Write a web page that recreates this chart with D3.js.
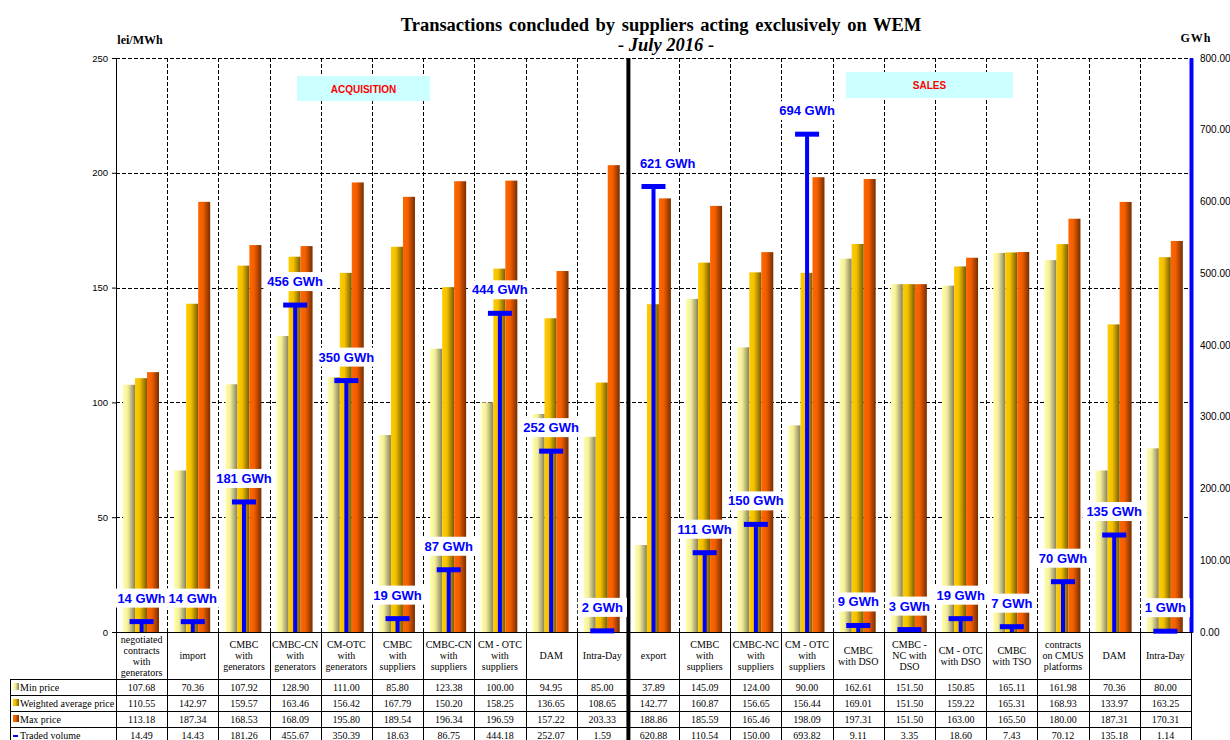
<!DOCTYPE html>
<html>
<head>
<meta charset="utf-8">
<script src="https://cdn.jsdelivr.net/npm/d3@7"></script>
<style>
  html, body { margin: 0; padding: 0; background: #fff; }
  svg { display: block; }
</style>
</head>
<body>
<svg id="chart" width="1230" height="740"></svg>
<script>
// Category labels (header row of the table), one array of lines per column
const categoryLines = [
  ["negotiated", "contracts", "with", "generators"],
  ["import"],
  ["CMBC", "with", "generators"],
  ["CMBC-CN", "with", "generators"],
  ["CM-OTC", "with", "generators"],
  ["CMBC", "with", "suppliers"],
  ["CMBC-CN", "with", "suppliers"],
  ["CM - OTC", "with", "suppliers"],
  ["DAM"],
  ["Intra-Day"],
  ["export"],
  ["CMBC", "with", "suppliers"],
  ["CMBC-NC", "with", "suppliers"],
  ["CM - OTC", "with", "suppliers"],
  ["CMBC", "with DSO"],
  ["CMBC -", "NC with", "DSO"],
  ["CM - OTC", "with DSO"],
  ["CMBC", "with TSO"],
  ["contracts", "on CMUS", "platforms"],
  ["DAM"],
  ["Intra-Day"]
];

// Prices, lei/MWh
const minPrice = [107.68, 70.36, 107.92, 128.90, 111.00, 85.80, 123.38, 100.00, 94.95, 85.00,
                  37.89, 145.09, 124.00, 90.00, 162.61, 151.50, 150.85, 165.11, 161.98, 70.36, 80.00];
const avgPrice = [110.55, 142.97, 159.57, 163.46, 156.42, 167.79, 150.20, 158.25, 136.65, 108.65,
                  142.77, 160.87, 156.65, 156.44, 169.01, 151.50, 159.22, 165.31, 168.93, 133.97, 163.25];
const maxPrice = [113.18, 187.34, 168.53, 168.09, 195.80, 189.54, 196.34, 196.59, 157.22, 203.33,
                  188.86, 185.59, 165.46, 198.09, 197.31, 151.50, 163.00, 165.50, 180.00, 187.31, 170.31];
// Traded volume, GWh
const tradedVolume = [14.49, 14.43, 181.26, 455.67, 350.39, 18.63, 86.75, 444.18, 252.07, 1.59,
                      620.88, 110.54, 150.00, 693.82, 9.11, 3.35, 18.60, 7.43, 70.12, 135.18, 1.14];

const priceTicks = [0, 50, 100, 150, 200, 250];
const volumeTicks = [0, 100, 200, 300, 400, 500, 600, 700, 800];
const acquisitionCount = 10;   // first 10 columns are acquisitions, the rest are sales

const seriesNames = ["Min price", "Weighted average price", "Max price", "Traded volume"];

// ---------------------------------------------------------------
const svg = d3.select("#chart");
const W = 1230, H = 740;
const plot = { left: 116, right: 1191, top: 58, bottom: 632 };
const table = { left: 10, headerBottom: 679, rowH: 16 };

svg.append("rect").attr("width", W).attr("height", H).attr("fill", "#fff");

const idx = d3.range(categoryLines.length);
const x = d3.scaleBand().domain(idx).range([plot.left, plot.right]).padding(0);
const xInner = d3.scaleBand().domain([0, 1, 2]).range([7, 43]).padding(0);
const yPrice = d3.scaleLinear().domain([0, 250]).range([plot.bottom, plot.top]);
const yVol = d3.scaleLinear().domain([0, 800]).range([plot.bottom, plot.top]);
const sepX = x(acquisitionCount);

// Gradients: bright on the left edge, shading to a dark tone on the right
const defs = svg.append("defs");
const gradSpecs = [
  { id: "gMin", light: "#ffffa6", mid: "#f4ee9c", dark: "#86805a" },
  { id: "gAvg", light: "#ffcc00", mid: "#f2c000", dark: "#765a00" },
  { id: "gMax", light: "#ff6600", mid: "#f25f00", dark: "#762d00" }
];
gradSpecs.forEach(g => {
  const lg = defs.append("linearGradient").attr("id", g.id)
    .attr("x1", "0%").attr("x2", "100%").attr("y1", "0%").attr("y2", "0%");
  lg.append("stop").attr("offset", "0%").attr("stop-color", g.light);
  lg.append("stop").attr("offset", "40%").attr("stop-color", g.mid);
  lg.append("stop").attr("offset", "100%").attr("stop-color", g.dark);
});

// Title
svg.append("text").attr("x", 661).attr("y", 31)
  .attr("text-anchor", "middle")
  .attr("font-family", "'Liberation Serif', 'Times New Roman', serif")
  .attr("font-weight", "bold").attr("font-size", 18.5).attr("word-spacing", 2)
  .text("Transactions concluded by suppliers acting exclusively on WEM");
svg.append("text").attr("x", 666).attr("y", 51)
  .attr("text-anchor", "middle")
  .attr("font-family", "'Liberation Serif', 'Times New Roman', serif")
  .attr("font-weight", "bold").attr("font-style", "italic").attr("font-size", 18.5)
  .text("- July 2016 -");

// Axis unit labels
svg.append("text").attr("x", 140).attr("y", 44).attr("text-anchor", "middle")
  .attr("font-family", "'Liberation Serif', 'Times New Roman', serif")
  .attr("font-weight", "bold").attr("font-size", 12).text("lei/MWh");
svg.append("text").attr("x", 1196).attr("y", 42).attr("text-anchor", "middle")
  .attr("font-family", "'Liberation Serif', 'Times New Roman', serif")
  .attr("font-weight", "bold").attr("font-size", 12).attr("letter-spacing", 1).text("GWh");

// Gridlines
const grid = svg.append("g").attr("stroke", "#000").attr("stroke-width", 1)
  .attr("stroke-dasharray", "4,2").attr("shape-rendering", "crispEdges");
grid.selectAll("line.h").data(priceTicks.filter(t => t > 0)).join("line")
  .attr("x1", plot.left).attr("x2", plot.right)
  .attr("y1", d => Math.round(yPrice(d)) + 0.5).attr("y2", d => Math.round(yPrice(d)) + 0.5);
grid.selectAll("line.v").data(idx.slice(1)).join("line")
  .attr("x1", d => Math.round(x(d)) + 0.5).attr("x2", d => Math.round(x(d)) + 0.5)
  .attr("y1", plot.top).attr("y2", plot.bottom);

// Section banners
const banners = [
  { label: "ACQUISITION", x0: 297, x1: 430, y0: 76, y1: 101 },
  { label: "SALES", x0: 846, x1: 1013, y0: 72, y1: 98 }
];
banners.forEach(b => {
  svg.append("rect").attr("x", b.x0).attr("y", b.y0)
    .attr("width", b.x1 - b.x0).attr("height", b.y1 - b.y0).attr("fill", "#ccffff");
  svg.append("text").attr("x", (b.x0 + b.x1) / 2).attr("y", (b.y0 + b.y1) / 2 + 4)
    .attr("text-anchor", "middle").attr("fill", "#ff0000")
    .attr("font-family", "'Liberation Sans', Arial, sans-serif")
    .attr("font-weight", "bold").attr("font-size", 10).text(b.label);
});

// Price bars
const priceSeries = [minPrice, avgPrice, maxPrice];
const gradIds = ["gMin", "gAvg", "gMax"];
const bars = svg.append("g");
priceSeries.forEach((series, s) => {
  bars.selectAll(null).data(series).join("rect")
    .attr("x", (d, i) => x(i) + xInner(s))
    .attr("width", xInner.bandwidth())
    .attr("y", d => yPrice(d))
    .attr("height", d => yPrice(0) - yPrice(d))
    .attr("fill", `url(#${gradIds[s]})`);
});

// Left axis (prices)
const axL = svg.append("g").attr("transform", `translate(${plot.left},0)`)
  .call(d3.axisLeft(yPrice).tickValues(priceTicks).tickSize(4).tickSizeOuter(0));
axL.select(".domain").attr("stroke", "#000");
axL.selectAll("text").attr("font-family", "'Liberation Sans', Arial, sans-serif")
  .attr("font-size", 9.5).attr("fill", "#000").attr("dx", -1);

// Right axis (volume)
const axR = svg.append("g").attr("transform", `translate(${plot.right},0)`)
  .call(d3.axisRight(yVol).tickValues(volumeTicks).tickSize(2).tickSizeOuter(0)
    .tickFormat(d3.format(".2f")));
axR.select(".domain").attr("stroke", "#0000ff").attr("stroke-width", 4);
axR.selectAll(".tick line").attr("stroke", "#0000ff");
axR.selectAll("text").attr("font-family", "'Liberation Sans', Arial, sans-serif")
  .attr("font-size", 10).attr("fill", "#000").attr("dx", 4);

// Bottom line at zero
svg.append("line").attr("x1", plot.left).attr("x2", plot.right)
  .attr("y1", plot.bottom + 0.5).attr("y2", plot.bottom + 0.5)
  .attr("stroke", "#000").attr("stroke-width", 1.2);

// ---------------- Data table ----------------
const tbl = svg.append("g").attr("shape-rendering", "crispEdges");
const serif = "'Liberation Serif', 'Times New Roman', serif";
const nRows = 4;
const rowsTop = table.headerBottom;
const rowsBottom = rowsTop + nRows * table.rowH;
const cx = i => x(i) + x.bandwidth() / 2;

// Horizontal rules
[rowsTop, ...d3.range(1, nRows + 1).map(r => rowsTop + r * table.rowH)].forEach(yv => {
  tbl.append("line").attr("x1", table.left).attr("x2", plot.right)
    .attr("y1", yv + 0.5).attr("y2", yv + 0.5).attr("stroke", "#000");
});
// Vertical rules
tbl.append("line").attr("x1", table.left + 0.5).attr("x2", table.left + 0.5)
  .attr("y1", rowsTop).attr("y2", rowsBottom).attr("stroke", "#000");
idx.concat([idx.length]).forEach(i => {
  const xv = i === idx.length ? plot.right : x(i);
  tbl.append("line").attr("x1", Math.round(xv) + 0.5).attr("x2", Math.round(xv) + 0.5)
    .attr("y1", plot.bottom).attr("y2", rowsBottom).attr("stroke", "#000");
});

// Header row: category names
idx.forEach(i => {
  const lines = categoryLines[i];
  const lh = 11;
  const mid = (plot.bottom + table.headerBottom) / 2;
  const y0 = mid - (lines.length - 1) * lh / 2 + 3.5;
  const t = tbl.append("text").attr("text-anchor", "middle")
    .attr("font-family", serif).attr("font-size", 10).attr("fill", "#000");
  lines.forEach((ln, k) => {
    t.append("tspan").attr("x", cx(i)).attr("y", y0 + k * lh).text(ln);
  });
});

// Row labels with legend keys
const valueRows = [minPrice, avgPrice, maxPrice, tradedVolume];
valueRows.forEach((row, r) => {
  const yc = rowsTop + r * table.rowH + table.rowH / 2;
  if (r < 3) {
    tbl.append("rect").attr("x", 13).attr("y", yc - 4).attr("width", 6).attr("height", 7)
      .attr("fill", `url(#${gradIds[r]})`);
  } else {
    tbl.append("rect").attr("x", 13).attr("y", yc - 0.5).attr("width", 5).attr("height", 2)
      .attr("fill", "#0000ff");
  }
  tbl.append("text").attr("x", 20).attr("y", yc + 3.5)
    .attr("font-family", serif).attr("font-size", 10).attr("fill", "#000")
    .text(seriesNames[r]);
  tbl.selectAll(null).data(row).join("text")
    .attr("x", (d, i) => cx(i)).attr("y", yc + 3.5)
    .attr("text-anchor", "middle")
    .attr("font-family", serif).attr("font-size", 10).attr("fill", "#000")
    .text(d => d3.format(".2f")(d));
});

// Thick separator between acquisitions and sales
svg.append("line")
  .attr("x1", sepX + 0.5).attr("x2", sepX + 0.5)
  .attr("y1", plot.top).attr("y2", H)
  .attr("stroke", "#000").attr("stroke-width", 4);

// Traded volume markers (T-shaped)
const vol = svg.append("g");
vol.selectAll("line.stem").data(tradedVolume).join("line")
  .attr("x1", (d, i) => cx(i)).attr("x2", (d, i) => cx(i))
  .attr("y1", yVol(0)).attr("y2", d => yVol(d))
  .attr("stroke", "#0000ff").attr("stroke-width", 4);
vol.selectAll("line.cap").data(tradedVolume).join("line")
  .attr("x1", (d, i) => cx(i) - 12).attr("x2", (d, i) => cx(i) + 12)
  .attr("y1", d => yVol(d)).attr("y2", d => yVol(d))
  .attr("stroke", "#0000ff").attr("stroke-width", 5);

// Volume labels on white boxes; a label never crosses the separator
const labelG = svg.append("g");
tradedVolume.forEach((v, i) => {
  const g = labelG.append("g");
  const ty = yVol(v) - 24;
  const t = g.append("text").attr("x", cx(i)).attr("y", ty + 5)
    .attr("text-anchor", "middle").attr("fill", "#0000ff")
    .attr("font-family", "'Liberation Sans', Arial, sans-serif")
    .attr("font-weight", "bold").attr("font-size", 13)
    .text(`${d3.format(".0f")(v)} GWh`);
  let bb = t.node().getBBox();
  if (i >= acquisitionCount && bb.x - 4 < sepX + 8) {
    t.attr("x", cx(i) + (sepX + 12 - bb.x));
    bb = t.node().getBBox();
  }
  g.insert("rect", "text").attr("x", bb.x - 4).attr("y", ty - 9)
    .attr("width", bb.width + 8).attr("height", 19).attr("fill", "#fff");
});
</script>
</body>
</html>
